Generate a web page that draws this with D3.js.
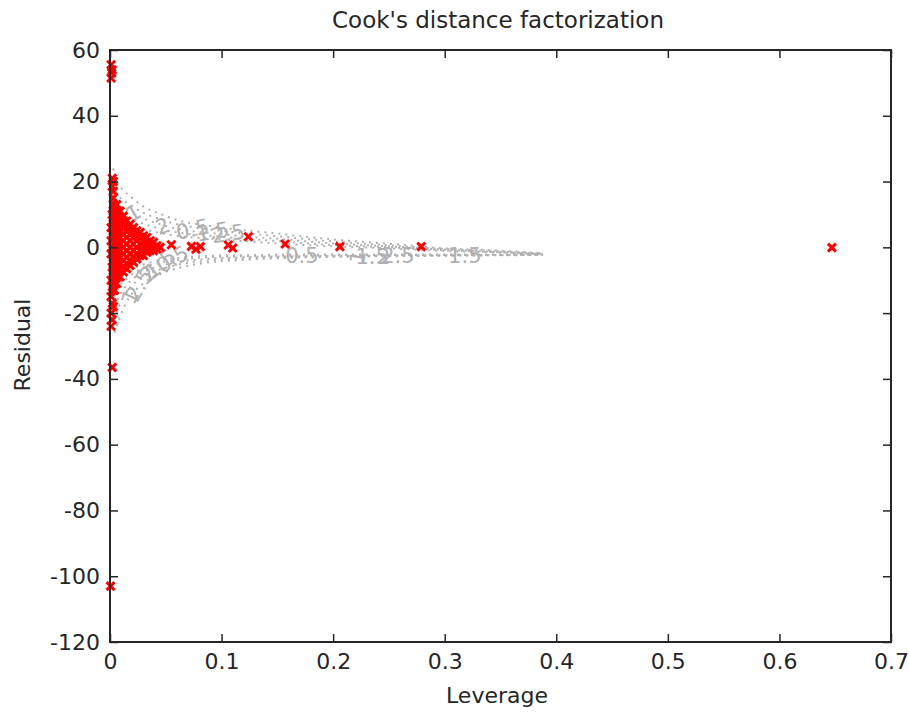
<!DOCTYPE html>
<html>
<head>
<meta charset="utf-8">
<script src="https://cdn.jsdelivr.net/npm/d3@7"></script>
<style>
  body { margin: 0; background: #fff; }
  text { font-family: "DejaVu Sans", Arial, sans-serif; }
</style>
</head>
<body>
<svg width="909" height="715"></svg>
<script>
// tick labels
const xTicks = [0, 0.1, 0.2, 0.3, 0.4, 0.5, 0.6, 0.7];
const yTicks = [-120, -100, -80, -60, -40, -20, 0, 20, 40, 60];

const leverage = [
  0.001, 0.002, 0.0015, 0.001,
  0.002, 0.003, 0.002, 0.003, 0.004, 0.006, 0.002, 0.005, 0.001, 0.003, 0.001, 0.002,
  0.001, 0.003, 0.002, 0.004, 0.001, 0.002, 0.004, 0.001, 0.002, 0.003, 0.001, 0.002,
  0.001, 0.002, 0.0005,
  0.055, 0.073, 0.077, 0.081, 0.106, 0.110, 0.124, 0.157, 0.206, 0.279, 0.647
];
const residual = [
  55.5, 54, 53, 51.5,
  21, 20, 18.5, 17, 12, 11, 10, 8, 6, 4, 2, 0,
  -2, -4, -6, -8, -10, -12, -13, -15, -17, -18, -20, -22,
  -24, -36.5, -103,
  0.8, 0.3, -0.6, 0.2, 0.7, -0.2, 3.2, 1.0, 0.2, 0.2, -0.1
];

// dense cluster near zero leverage: one leverage per column, residuals per column
const clusterLev = [0.003, 0.006, 0.009, 0.012, 0.015, 0.018, 0.021, 0.024,
                    0.027, 0.030, 0.033, 0.036, 0.039, 0.042, 0.045];
const clusterRes = [
  [15, 13, 11, 9, 7, 5, 3, 1, -1, -3, -5, -7, -9, -11, -13],
  [13, 11, 9, 7, 5, 3, 1, -1, -3, -5, -7, -9, -11],
  [11, 9, 7, 5, 3, 1, -1, -3, -5, -7, -9],
  [9.5, 8, 6, 4, 2, 0, -2, -4, -6, -7.5],
  [8, 6.5, 5, 3, 1, -1, -3, -5, -6.5],
  [7, 5.5, 4, 2, 0, -2, -4, -5.5],
  [6, 4.5, 3, 1, -1, -3, -4.5],
  [5, 3.5, 2, 0, -2, -3.5],
  [4.5, 3, 1, -1, -2.5],
  [3.5, 2, 0.5, -1, -2.5],
  [3, 1.5, 0, -1.5],
  [2, 0.5, -1],
  [1.5, 0, -1],
  [0.5, -0.5],
  [0]
];

// Cook's distance contours, traced as (leverage, residual) points
const contourLevUpper = [0.003, 0.005, 0.02, 0.05, 0.1, 0.15, 0.2, 0.25, 0.3, 0.35, 0.388];
const contourU1 = [24, 21, 15, 9.5, 6, 4.2, 2.4, 1.1, -0.3, -1, -1.8];
const contourU2 = [19, 17, 12.5, 8, 5, 3.4, 1.8, 0.6, -0.5, -1.2, -1.9];
const contourU3 = [16, 14, 10.5, 6.5, 4, 2.6, 1.2, 0.3, -0.7, -1.4, -2];
const contourU4 = [13, 11, 8.5, 5.2, 3.2, 1.9, 0.7, 0, -0.9, -1.5, -2];
const contourU5 = [10, 8, 6.5, 4, 2.4, 1.2, 0.3, -0.3, -1.1, -1.6, -2.1];
const contourLevLower = [0.004, 0.008, 0.015, 0.03, 0.05, 0.08, 0.12, 0.17, 0.25, 0.32, 0.388];
const contourL1 = [-26, -22, -16.5, -11, -7.5, -5, -3.8, -3.1, -2.7, -2.5, -2.3];
const contourL2 = [-22, -18, -13.5, -9, -6.2, -4.3, -3.4, -2.9, -2.6, -2.4, -2.3];
const contourL3 = [-18, -15, -11.5, -7.5, -5.2, -3.7, -3, -2.7, -2.5, -2.4, -2.2];
const contourL4 = [-15, -12, -9.5, -6.2, -4.4, -3.2, -2.7, -2.5, -2.3, -2.3, -2.2];
const contourL5 = [-11, -9, -7.5, -5.2, -3.7, -2.7, -2.4, -2.2, -2.2, -2.2, -2.1];

// contour labels
const labelText = ["1", "2", "0.5", "1.5", "2.5", "1.5", "2", "2.5", "0.5", "1",
                   "0.5", "1", "1.5", "2", "2.5", "1.5"];
const labelLev  = [0.021, 0.047, 0.074, 0.092, 0.106, 0.045, 0.034, 0.026, 0.056, 0.018,
                   0.172, 0.222, 0.235, 0.245, 0.258, 0.318];
const labelRes  = [10.5, 6.5, 5.5, 4.8, 4.2, -5.0, -8.0, -11.5, -3.6, -15,
                   -2.6, -3.0, -2.7, -2.9, -2.6, -2.5];
const labelRot  = [-30, -20, -12, -10, -8, -40, -50, -60, -30, -65,
                   0, -80, 0, 0, 0, 0];

const svg = d3.select("svg");
const x = d3.scaleLinear().domain([0, 0.7]).range([110, 891]);
const y = d3.scaleLinear().domain([-120, 60]).range([642, 50]);

// contours
const contours = [
  [contourLevUpper, contourU1], [contourLevUpper, contourU2], [contourLevUpper, contourU3],
  [contourLevUpper, contourU4], [contourLevUpper, contourU5],
  [contourLevLower, contourL1], [contourLevLower, contourL2], [contourLevLower, contourL3],
  [contourLevLower, contourL4], [contourLevLower, contourL5]
];
const line = d3.line().curve(d3.curveMonotoneX)
  .x(d => x(d[0])).y(d => y(d[1]));
svg.append("g").attr("class", "contours")
  .selectAll("path")
  .data(contours.map(c => c[0].map((h, i) => [h, c[1][i]])))
  .join("path")
  .attr("d", line)
  .attr("fill", "none")
  .attr("stroke", "#b0b0b0")
  .attr("stroke-width", 2)
  .attr("stroke-dasharray", "2,5");

svg.append("g").attr("class", "clabels")
  .selectAll("text")
  .data(labelText.map((t, i) => ({t: t, h: labelLev[i], r: labelRes[i], a: labelRot[i]})))
  .join("text")
  .attr("transform", d => `translate(${x(d.h)},${y(d.r)}) rotate(${d.a})`)
  .attr("text-anchor", "middle")
  .attr("dy", "0.35em")
  .attr("font-size", 21)
  .attr("fill", "#b0b0b0")
  .text(d => d.t);

// markers
const pts = leverage.map((h, i) => ({h: h, r: residual[i]}));
clusterLev.forEach((h, i) => clusterRes[i].forEach(r => pts.push({h: h, r: r})));
const s = 4;
svg.append("g").attr("class", "marks")
  .selectAll("path")
  .data(pts)
  .join("path")
  .attr("d", d => {
    const cx = x(d.h), cy = y(d.r);
    return `M${cx - s},${cy - s}L${cx + s},${cy + s}M${cx - s},${cy + s}L${cx + s},${cy - s}`;
  })
  .attr("stroke", "#ff0000")
  .attr("stroke-width", 3)
  .attr("fill", "none");

// axes box
const fmt = d => String(d);
function styleAxis(g) {
  g.select(".domain").remove();
  g.selectAll(".tick line").attr("stroke", "#262626").attr("stroke-width", 1.5);
  g.selectAll(".tick text").attr("fill", "#262626").attr("font-size", 22)
    .attr("font-family", "'DejaVu Sans', Arial, sans-serif");
}
svg.append("g").attr("transform", "translate(0,642)")
  .call(d3.axisBottom(x).tickValues(xTicks).tickFormat(fmt).tickSize(-8).tickPadding(11))
  .call(styleAxis);
svg.append("g").attr("transform", "translate(0,50)")
  .call(d3.axisTop(x).tickValues(xTicks).tickFormat("").tickSize(-8))
  .call(styleAxis);
svg.append("g").attr("transform", "translate(110,0)")
  .call(d3.axisLeft(y).tickValues(yTicks).tickFormat(fmt).tickSize(-8).tickPadding(10))
  .call(styleAxis);
svg.append("g").attr("transform", "translate(891,0)")
  .call(d3.axisRight(y).tickValues(yTicks).tickFormat("").tickSize(-8))
  .call(styleAxis);

svg.append("rect")
  .attr("x", 110).attr("y", 50).attr("width", 781).attr("height", 592)
  .attr("fill", "none").attr("stroke", "#262626").attr("stroke-width", 2);

// titles
svg.append("text").attr("x", 498).attr("y", 28).attr("text-anchor", "middle")
  .attr("font-size", 23).attr("fill", "#262626").text("Cook's distance factorization");
svg.append("text").attr("x", 497).attr("y", 703).attr("text-anchor", "middle")
  .attr("font-size", 22).attr("fill", "#262626").text("Leverage");
svg.append("text").attr("transform", "translate(30,345) rotate(-90)").attr("text-anchor", "middle")
  .attr("font-size", 22).attr("fill", "#262626").text("Residual");
</script>
</body>
</html>
